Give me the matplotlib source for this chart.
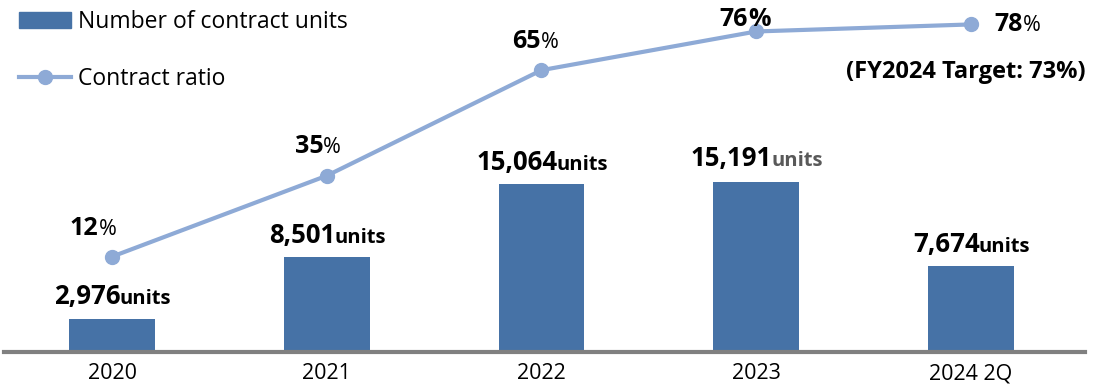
import matplotlib.pyplot as plt
from matplotlib.lines import Line2D
from matplotlib.patches import Patch

# contract units and contract ratio per period
periods = ["2020", "2021", "2022", "2023", "2024 2Q"]
units = [2976, 8501, 15064, 15191, 7674]
ratio = [12, 35, 65, 76, 78]
target_text = "(FY2024 Target: 73%)"

bar_color = "#4672a6"
line_color = "#8eaad6"

plt.rcParams["font.family"] = ["Open Sans", "DejaVu Sans"]

fig = plt.figure(figsize=(10.99, 3.91), dpi=100)
W, H = 1099, 391
# baseline at y=352 px, axis runs from x=4 to x=1085 px
ax = fig.add_axes([4 / W, (H - 352) / H, 1081 / W, 342 / H])
ax2 = ax.twinx()
renderer = fig.canvas.get_renderer()

x = list(range(len(periods)))
ax.bar(x, units, width=0.4, color=bar_color, zorder=2)
ax.set_xlim(-0.503, 4.531)
ax.set_ylim(0, 30590)
ax2.set_ylim(-15.1, 82.1)

ax2.plot(x, ratio, color=line_color, lw=3, marker="o", ms=10,
         markerfacecolor=line_color, markeredgecolor=line_color, zorder=3)

for a in (ax, ax2):
    for s in ["top", "right", "left"]:
        a.spines[s].set_visible(False)
    a.set_yticks([])
ax2.spines["bottom"].set_visible(False)
ax.spines["bottom"].set_color("#808080")
ax.spines["bottom"].set_linewidth(3)

ax.set_xticks(x)
ax.set_xticklabels(periods, fontsize=15.5)
ax.tick_params(axis="x", length=0, pad=8)


def text_width(s, size, weight):
    t = fig.text(0, 0, s, fontsize=size, fontweight=weight)
    w = t.get_window_extent(renderer).width
    t.remove()
    return w


def label(a, xy, parts, dx, dy, gap=0):
    # parts: list of (text, size, weight, color), drawn side by side on one baseline
    widths = [text_width(p[0], p[1], p[2]) - gap for p in parts]
    start = dx - sum(widths) / 2
    for (s, size, weight, col), w in zip(parts, widths):
        a.annotate(s, xy, xytext=(start, dy), textcoords="offset pixels",
                   ha="left", va="baseline", fontsize=size, fontweight=weight,
                   color=col)
        start += w


# unit labels above bars
unit_dy = [15, 14, 14, 16, 14]
for i, v in enumerate(units):
    unit_col = "#595959" if i == 3 else "black"
    label(ax, (i, v), [(f"{v:,}", 18.5, "bold", "black"),
                       ("units", 14.5, "bold", unit_col)], 0, unit_dy[i], gap=1)

# ratio labels
pct_pos = [(-19, 22), (-9, 23), (-6, 22), (-11, 5), (47, -7)]
for i, v in enumerate(ratio):
    dx, dy = pct_pos[i]
    pct_w = "bold" if i == 3 else "normal"
    pct_s = 18 if i == 3 else 15.5
    label(ax2, (i, v), [(str(v), 18, "bold", "black"),
                        ("%", pct_s, pct_w, "black")], dx, dy)

label(ax2, (4, ratio[4]), [(target_text, 17, "bold", "black")], -5, -54)

handles = [Patch(facecolor=bar_color, edgecolor=bar_color),
           Line2D([0], [0], color=line_color, lw=3, marker="o", ms=10)]
fig.legend(handles, ["Number of contract units", "Contract ratio"],
           loc="upper left", bbox_to_anchor=(19 / W, 1 - 10 / H), frameon=False,
           fontsize=16.5, handlelength=2.27, handleheight=0.66, handletextpad=0.3,
           labelspacing=1.45, borderaxespad=0, borderpad=0)

fig.savefig("out.png", dpi=100)
